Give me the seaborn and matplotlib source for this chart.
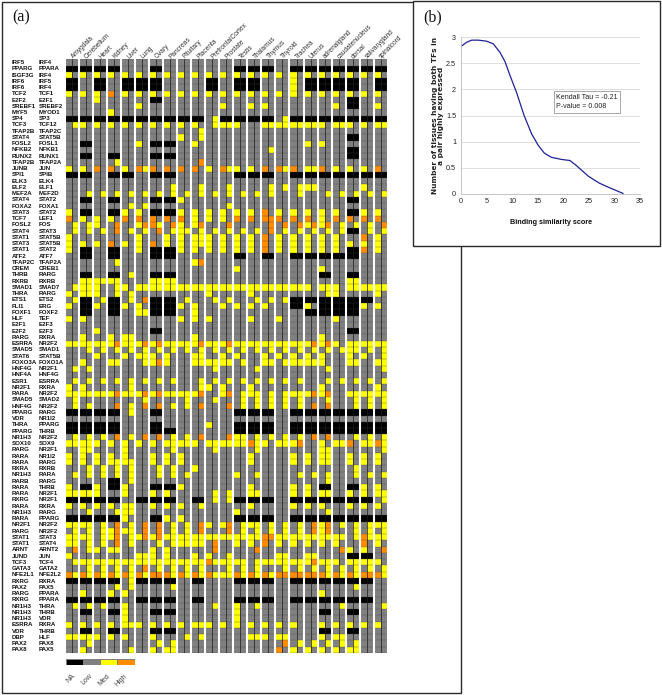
import numpy as np
import pandas as pd
import matplotlib
matplotlib.use("Agg")
import matplotlib.pyplot as plt
from matplotlib.colors import ListedColormap
from matplotlib.patches import Rectangle
import seaborn as sns

W, H = 662, 695

tissues = ["Amygdala", "Cerebellum", "Heart", "Kidney", "Liver", "Lung", "Ovary", "Pancreas",
           "Pituitary", "Placenta", "PrefrontalCortex", "Prostate", "Testis", "Thalamus", "Thymus",
           "Thyroid", "Trachea", "Uterus", "adrenalgland", "caudatenucleus", "dorsal",
           "salivarygland", "spinalcord"]

tf_left = ["IRF5", "PPARG", "ISGF3G", "IRF6", "IRF6", "TCF2", "E2F2", "SREBF1", "MYF5", "SP4",
           "TCF3", "TFAP2B", "STAT4", "FOSL2", "NFKB2", "RUNX2", "TFAP2B", "JUNB", "SPI1", "ELK3",
           "ELF2", "MEF2A", "STAT4", "FOXA2", "STAT3", "TCF7", "FOSL2", "STAT4", "STAT1", "STAT3",
           "STAT1", "ATF2", "TFAP2C", "CREM", "THRB", "RXRB", "SMAD1", "THRA", "ETS1", "FLI1",
           "FOXF1", "HLF", "E2F1", "E2F2", "RARG", "ESRRA", "SMAD5", "STAT6", "FOXO3A", "HNF4G",
           "HNF4A", "ESR1", "NR2F1", "RARA", "SMAD5", "HNF4G", "PPARG", "VDR", "THRA", "PPARG",
           "NR1H3", "SOX10", "RARG", "RARA", "RARA", "RXRA", "NR1H3", "RARB", "RARA", "RARA",
           "RXRG", "RARA", "NR1H3", "RARA", "NR2F1", "RARG", "STAT1", "STAT1", "ARNT", "JUND",
           "TCF3", "GATA3", "NFE2L1", "RXRG", "PAX2", "RARG", "RXRG", "NR1H3", "NR1H3", "NR1H3",
           "ESRRA", "VDR", "DBP", "PAX2", "PAX8"]

tf_right = ["IRF4", "PPARA", "IRF4", "IRF5", "IRF4", "TCF1", "E2F1", "SREBF2", "MYOD1", "SP3",
            "TCF12", "TFAP2C", "STAT5B", "FOSL1", "NFKB1", "RUNX1", "TFAP2A", "JUN", "SPIB", "ELK4",
            "ELF1", "MEF2D", "STAT2", "FOXA1", "STAT2", "LEF1", "FOS", "STAT3", "STAT5B", "STAT5B",
            "STAT2", "ATF7", "TFAP2A", "CREB1", "RARG", "RXRB", "SMAD7", "RARG", "ETS2", "ERG",
            "FOXF2", "TEF", "E2F3", "E2F3", "RXRA", "NR2F2", "SMAD1", "STAT5B", "FOXO1A", "NR2F1",
            "HNF4G", "ESRRA", "RXRA", "NR2F2", "SMAD2", "NR2F2", "RARG", "NR1I2", "PPARG", "THRB",
            "NR2F2", "SOX9", "NR2F1", "NR1I2", "RARG", "RXRB", "RARA", "RARG", "THRB", "NR2F1",
            "NR2F1", "RXRA", "RARG", "PPARG", "NR2F2", "NR2F2", "STAT3", "STAT4", "ARNT2", "JUN",
            "TCF4", "GATA2", "NFE2L2", "RXRA", "PAX5", "PPARA", "PPARA", "THRA", "THRB", "VDR",
            "RXRA", "THRB", "HLF", "PAX8", "PAX5"]

# k = NA, y = Med, o = High; number = tissue, a/b = first/second TF of the pair, no letter = both
cell_levels = [
    "",
    "k:0 1 2 3 6 12 13 14 16 17 18 19 20 21 22",
    "y:0a 1a 2a 3a 4a 5a 6a 7a 8a 9a 10a 11a 12a 13a 14a 15a 16a 17a 18a 19a 20a 21a 22a",
    "k:0 2 4 5 6 10 12 13 17 18 19 20 22 y:16a",
    "k:0 2 4 5 6 10 12 13 17 18 19 20 22 y:16a",
    "y:0a 1a 2a 4a 5a 6a 7a 8a 9a 10a 11a 12a 13a 14a 15a 16a 17a 18a 19a 20a 21a 22a o:3a",
    "k:6 20 y:2a",
    "k:20 y:5a 11a 13a 14a 19a 22a",
    "y:3a",
    "k:0 1 2 3 4 5 6 7 8 9 11 12 13 14 16 17 18 19 20 21 22 y:10b 15b",
    "y:0b 1a 2a 3a 4a 5a 6a 7a 8a 9a 10b 11a 11b 12a 14a 14b 15a 15b 16a 16b 17a 17b 18a 19a 19b 20a 21a 22a 22b",
    "y:9b",
    "k:20 y:8a 9b",
    "k:1 6 7 y:5a 9a 17a 18a",
    "k:20 y:14b",
    "k:1 3 6 7 20",
    "y:3b o:9b",
    "y:0a 1a 4a 5b 10a 11b 12a 13a 15b 17a 17b 19a 20a 21a o:2a 3a 5a 6a 7a 8a 9a 11a 14a 15a 16a 18a 22a",
    "k:0 1 3 4 6 7 12 13 14 16 17 18 19 20 21 22",
    "",
    "y:7b 9b 11b 14b 15b 16b 17a 17b 21a",
    "y:1b 2b 3b 4b 5b 6b 7b 8b 9b 10b 11b 12b 13b 14b 16b 18b 19b 20b 21b 22b",
    "k:1 3 6 7 20 y:8a",
    "y:4b 5b 11b",
    "k:1 3 6 7 20 y:0a 4a 5a 8a 9a 10a 11a 12a 13a 15a 16a 17a 18a 19a 21a 22a o:14a",
    "y:1a 2a 3a 9a 10a 11a 18a o:0a 4a 5a 6a 7a 8a 12a 13a 14a 14b 15a 16a 17a 19a 20a 21a 22a",
    "y:0b 1b 2a 5a 6b 8a 9a 17a 18a 19b 20b 21b o:3b 5b 6a 7b 9b 11b 14b 15b 16b 17b 18b 22b",
    "k:20 y:0b 1b 2b 4b 5b 7b 8a 8b 9b 10b 11b 12b 13b 15b 16b 17b 18b 19b 21b 22b o:3b 6b 14b",
    "y:0a 5a 7a 8a 9a 9b 10a 11a 12a 13a 15a 16a 17a 18a 19a 22a o:14a 21a",
    "y:0a 1a 2a 4a 5a 7a 8a 9a 9b 10a 11a 12a 13a 15a 16a 17a 18a 19a 20a 21a 22a o:3a 6a 14a",
    "k:1 3 6 7 20 y:0a 5a 8a 9a 10a 11a 12a 13a 15a 16a 17a 18a 19a 22a o:14a 21a",
    "k:1 3 6 7 12 14 16 17 18 19 20",
    "y:3b 9a o:9b",
    "y:12a 18a",
    "k:1 3 6 7 18 20 y:4b",
    "y:1 2 3 6 7 20",
    "y:0b 1 2a 3b 4a 5 6 7 8 9 10 11 12 13 14 15 16 17a 18 19a 20 21 22",
    "y:0a 1 2a 3b 4b 10a 13a 18b 19a 22a",
    "k:1 3 6 7 16 17 18 19 20 21 y:0b 2b 4b 8b 10b 11b 13b 14b 15b o:5b",
    "k:1 3 6 7 16 18 19 20 y:0a 2a 4a 5a 8a 9a 11a 12a 13a 14a 17a 21a 22a",
    "k:1 3 6 7 17 18 19 20 y:5 9a",
    "y:0a 1a 8a 9a 10a 13a 15a 19a",
    "",
    "k:6 20 y:2a",
    "y:1a 3a 4 9a 18a",
    "y:0 1 2 3a 4 5a 6a 7 8 9a 10 11a 12 13 14 15 16 17a 18a 19a 20 21 22 o:3b 5b 6b 9b 11b 17b 18b",
    "y:1b 2b 3b 4b 5b 6b 7b 8b 9b 10b 11b 12b 13b 14b 15b 16b 17b 18b 19b 20 21b 22b",
    "y:2a 4a 5a 5b 6a 7a 9 11a 12a 14a 15a 16a 17a 18a 20a 21a 22b",
    "y:1a 3 5b 6a 7a 9 10 11 12b 14 15b 16 17 18a 20 22 o:6b",
    "y:0b 1b 10b 13b 18b 22b",
    "",
    "y:0b 1b 2b 3b 4b 5b 6b 7b 9b 10b 11b 12b 13b 14b 15b 16b 18b 19b 20b 21b 22b",
    "y:0a 1a 4b 9b 10a 11a 13a 18a 22a",
    "y:0 1 2 3a 4 5a 6a 7 8 9a 11a 12b 13 14b 15b 16 17a 18a 20 21 22 o:3b 5b 6b 9b 11b 17b 18b",
    "y:0b 5b 8b 10b 12b 13b 14b 15b 16b 18b 20b 21b 22b",
    "y:0b 1b 4b 7b 8b 12b 13b 14b 15b 16b 20b 21b 22b o:3b 5b 6b 9b 11b 17b 18b",
    "k:0 1 2 3 6 12 13 14 16 17 18 19 20 21 22 y:4b",
    "",
    "k:0 1 2 3 6 12 13 14 16 17 18 19 20 21 22 y:10a",
    "k:0 1 2 3 6 7 12 13 14 16 17 18 19 20 21 22",
    "y:0b 1b 2b 4b 7b 8b 12 13b 14b 15b 16b 20b 21b 22b o:3b 5b 6b 9b 11b 17b 18b",
    "y:0 1 2a 3a 4a 5a 6a 7 8 9a 10 11 12 13b 14a 15 16a 18a 19 21 22b o:13a 16b 20a 22a",
    "y:1 4a 7b 10b 13b 18 22b",
    "y:0a 1a 2a 3a 4a 6a 7a 8a 13a 16a 17a 18 20a 21a 22a",
    "y:0a 1a 2a 3 4 6a 7a 8a 13a 16a 17a 18 20a 21a 22a",
    "y:1b 2b 3b 4b 6b 7b 9a 20b",
    "y:0b 1b 2b 3b 4b 6b 7b 8b 12a 13b 16b 17b 18b 20b 21b 22b",
    "k:3 y:4b 18b",
    "k:1 3 6 7 18 20 y:0a 2a 4a 8a 13a 16a 17a 21a 22a",
    "y:0 1 2a 4a 6a 7a 10b 11b 13 16a 17a 18 20a 21a 22",
    "k:0 1 2 3 5 6 7 9 12 13 14 16 17 18 19 20 21 y:10b 11b 22b",
    "y:0a 1a 2a 3a 4 6a 7a 8a 9b 13a 16a 17a 18a 20a 21a 22a",
    "y:1b 3b 4 12a 18b",
    "k:0 1 2 3 6 12 13 14 16 17 18 19 20 21 22 y:4a 7a 8a",
    "y:0 1 2b 4b 7b 8b 10a 11 12b 13 14b 15b 16b 18a 19b 20b 21b 22 o:3b 5b 6b 9b 11b 17b 18b",
    "y:0b 1b 2b 3a 4 7b 8b 12b 13b 14b 15b 16b 18a 20b 21b 22b o:3b 5b 6b 9b 11b 17b 18b",
    "y:0 1 2b 3a 4b 5a 6a 7 8 9 10 11 12 13 15 16 17 18 19 20b 21b 22 o:3b 5b 6b 14 21a",
    "y:0 1b 2b 4b 6b 7b 8 9 12a 13a 15a 16a 17a 18a 19a 22a o:3b 10b 14a 21a",
    "y:1b 2a 3 6a 7a 20a 21a o:0b 10b 13b 19b 22b",
    "k:20 21 y:0a 5 6a 7a 9a 10a 11b 15 17",
    "y:0b 1 2 3 4 5 6 7 8 9 10b 11 12 13b 14 15 16 17a 18 19a 20 21 22a o:10a 17b",
    "y:1b 2b 3b 4b 6b 7b 8b 9b 11b 12b 13b 15b 16b 17b 18b 19b 20b 21b 22b o:5b",
    "y:0b 1b 2b 3b 4b 5b 7b 8b 9b 10b 11 12b 13b 14b 18b 19b 20b 22b o:0a 1a 2a 3a 4a 5a 6 7a 8a 9a 10a 12a 13a 14a 15 16 17 18a 19a 20a 21 22a",
    "k:0 1 2 3 5 6 7 9 12 13 14 16 17 18 19 20 21 y:4b",
    "y:3b 4b 7b 20b",
    "y:1a 3a 4a 18a",
    "k:0 1 2 3 5 6 7 9 12 13 14 16 17 18 19 20 21",
    "y:0b 1b 2b 4a 10b 12a 13b 19b 22b",
    "k:1 3 6 7 18 20 y:4a 12a",
    "y:4a 12a",
    "y:0a 1a 2a 3a 4 5a 6a 7a 8a 9 10a 11a 12a 13a 14a 15a 16a 18a 19a 20a 21a 22a",
    "k:1 3 6 7 18 20",
    "y:0 1 2a 3a 4a 6a 8b 9b 13 14a 15 18a 19",
    "y:1b 6b 7b 16b 17b 18b 19b 20b o:15b",
    "y:1a 4b 6a 7 16a 17a 18a 19a 20 o:15a",
]

level_names = ["NA", "Low", "Med", "High"]
level_colors = ["#000000", "#808080", "#FFFF00", "#FF8C00"]

binding_score = [0, 1.1, 2.1, 3.4, 5, 6.3, 7.6, 8.6, 9.6, 10.9, 12.3, 13.8, 15.1, 16.3, 17.7,
                 19.7, 21.3, 22.6, 24.9, 27, 28.8, 31.7]
tissue_count = [2.82, 2.90, 2.94, 2.94, 2.92, 2.87, 2.71, 2.53, 2.26, 1.93, 1.51, 1.15, 0.93,
                0.78, 0.70, 0.66, 0.64, 0.54, 0.34, 0.21, 0.13, 0.01]

# ---- turn the cell notation into a matrix
code = {"k": 0, "y": 2, "o": 3}
matrix = np.ones((len(cell_levels), 2 * len(tissues)), dtype=int)
for r, text in enumerate(cell_levels):
    level = None
    for tok in text.split():
        if ":" in tok:
            key_name, tok = tok.split(":")
            level = code[key_name]
        side = tok[-1] if tok[-1] in "ab" else ""
        g = int(tok.rstrip("ab"))
        if side in ("", "a"):
            matrix[r, 2 * g] = level
        if side in ("", "b"):
            matrix[r, 2 * g + 1] = level

columns = [f"{t}_{s}" for t in tissues for s in ("a", "b")]
frame = pd.DataFrame(matrix, columns=columns)

sns.set_theme(style="white")
plt.rcParams["font.family"] = ["Liberation Sans", "DejaVu Sans"]
fig = plt.figure(figsize=(W / 100, H / 100), dpi=100, facecolor="white")


def rect_axes(left, top, right, bottom):
    return fig.add_axes([left / W, 1 - bottom / H, (right - left) / W, (bottom - top) / H])


def panel(left, top, right, bottom, z):
    fig.add_artist(Rectangle((left / W, 1 - bottom / H), (right - left) / W, (bottom - top) / H,
                             transform=fig.transFigure, facecolor="white", edgecolor="#2b2b2b",
                             linewidth=1.0, zorder=z))


panel(1.5, 1.5, 461, 693, -3)
panel(413, 1.5, 660, 246, -2)

cmap = ListedColormap(level_colors)

# ---- panel (a) heat map
ax = rect_axes(65, 59.4, 387.7, 652.9)
sns.heatmap(frame, ax=ax, cmap=cmap, vmin=-0.5, vmax=3.5, cbar=False,
            xticklabels=False, yticklabels=False)
n_rows, n_cols = frame.shape
ax.hlines(np.arange(0, n_rows + 1), 0, n_cols, color="#4a4a4a", linewidth=0.35, alpha=0.7)
ax.vlines(np.arange(1, n_cols, 2), 0, n_rows, color="#1a1a1a", linewidth=0.5)
ax.vlines(np.arange(0, n_cols + 1, 2), 0, n_rows, color="white", linewidth=1.5)
ax.set_xticks(np.arange(len(tissues)) * 2 + 1)
ax.set_xticklabels(tissues, rotation=45, ha="left", va="center", rotation_mode="anchor",
                   fontsize=4.7, color="#333333")
ax.xaxis.tick_top()
ax.tick_params(axis="x", length=0, pad=1.0)
ax.set_yticks(np.arange(n_rows) + 0.5)
ax.set_yticklabels(tf_right, ha="left", fontsize=4.4, fontweight="bold", color="#111111",
                   va="center")
ax.tick_params(axis="y", length=0, pad=18.7)
ax.set_xlabel("")
ax.set_ylabel("")
to_left_col = matplotlib.transforms.blended_transform_factory(fig.transFigure, ax.transData)
for r, name in enumerate(tf_left):
    ax.text(12 / W, r + 0.5, name, transform=to_left_col, ha="left", va="center",
            fontsize=4.4, fontweight="bold", color="#111111", clip_on=False)

# ---- panel (a) colour key
key = rect_axes(66, 659, 134.6, 665)
sns.heatmap(pd.DataFrame([[0, 1, 2, 3]], columns=level_names), ax=key, cmap=cmap, vmin=-0.5,
            vmax=3.5, cbar=False, yticklabels=False, linewidths=0.5, linecolor="#808080")
key.set_xticks(np.arange(len(level_names)) + 0.5)
key.set_xticklabels(level_names, rotation=45, ha="right", va="center", rotation_mode="anchor",
                    fontsize=5, color="#444444")
key.tick_params(axis="x", length=0, pad=7)
key.set_ylabel("")

fig.text(12 / W, 1 - 17 / H, "(a)", family="Liberation Serif", fontsize=11.5, va="center",
         color="#111111")
fig.text(423 / W, 1 - 17 / H, "(b)", family="Liberation Serif", fontsize=11.5, va="center",
         color="#111111")

# ---- panel (b) line chart
bx = rect_axes(461, 37, 640, 194)
sns.lineplot(x=binding_score, y=tissue_count, ax=bx, color="#20209a", linewidth=0.9)
bx.set_xlim(0, 35)
bx.set_ylim(0, 3)
bx.set_xticks(np.arange(0, 36, 5))
bx.set_yticks(np.arange(0, 3.01, 0.5))
bx.set_yticklabels(["0", "0.5", "1", "1.5", "2", "2.5", "3"])
bx.grid(axis="y", color="#d9d9d9", linewidth=0.6)
bx.grid(axis="x", visible=False)
bx.tick_params(axis="both", labelsize=5.2, colors="#222222", length=1.5, width=0.4, pad=1.5)
bx.tick_params(axis="y", length=0, pad=3.5)
for side in ("top", "right"):
    bx.spines[side].set_visible(False)
for side in ("left", "bottom"):
    bx.spines[side].set_color("#bbbbbb")
    bx.spines[side].set_linewidth(0.6)
bx.patch.set_alpha(0)
fig.text(551 / W, 1 - 222 / H, "Binding similarity score", fontsize=5.2, fontweight="bold",
         ha="center", va="center", color="#111111")
fig.text(437.5 / W, 1 - 116 / H, "Number of tissues having both TFs in\na pair highly expressed",
         family="DejaVu Sans", fontsize=5.3, fontweight="bold", rotation=90, ha="center",
         va="center", multialignment="center", color="#222222", linespacing=1.0)
fig.text(556 / W, 1 - 102 / H, "Kendall Tau = -0.21\nP-value = 0.008", fontsize=5.1, ha="left",
         va="center", color="#222222", linespacing=1.55,
         bbox=dict(boxstyle="square,pad=0.35", facecolor="white", edgecolor="#999999",
                   linewidth=0.6))

fig.savefig("out.png", dpi=100, facecolor="white")
